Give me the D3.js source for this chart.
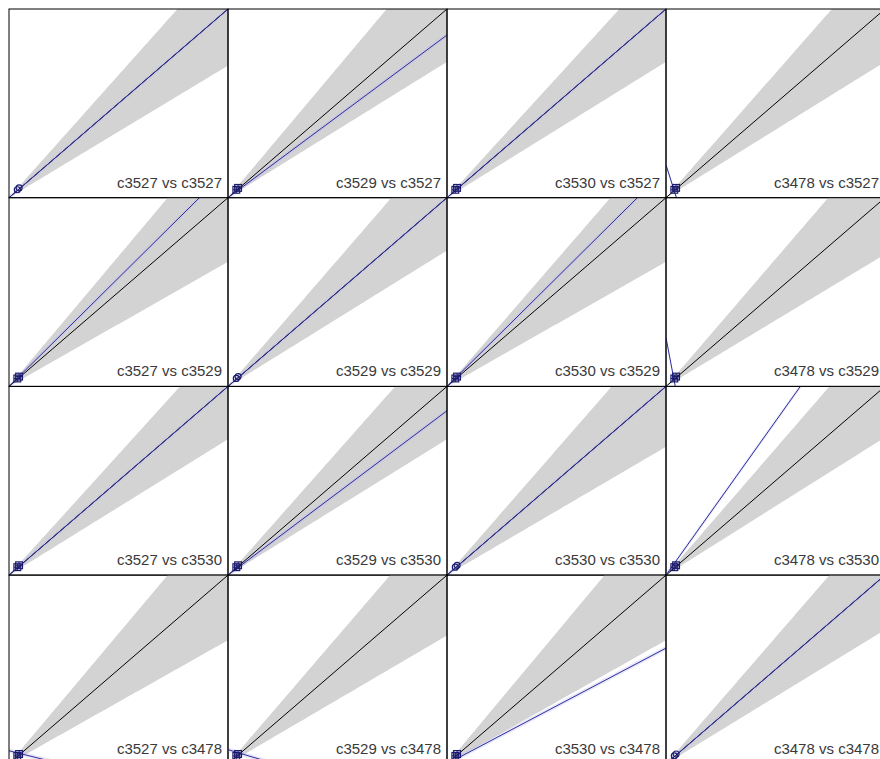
<!DOCTYPE html>
<html>
<head>
<meta charset="utf-8">
<script src="https://cdn.jsdelivr.net/npm/d3@7"></script>
<style>
  html, body { margin: 0; padding: 0; background: #fff; }
  svg { display: block; }
</style>
</head>
<body>
<script>
// ---- data ----
const variables = ["c3527", "c3529", "c3530", "c3478"];
// regression (blue) line per panel, row-major (row = y variable, col = x variable)
const lineSlopes = [
  1.00, 0.862, 1.00, -3.65,
  1.15, 1.00, 1.15, -6.10,
  1.00, 0.871, 1.00, 1.63,
  -0.29, -0.35, 0.613, 1.00
];
const lineIntercepts = [
  0, 0, 0, 0.174,
  0, 0, 0, 0.258,
  0, 0, 0, 0,
  0.069, 0.075, 0, 0
];
// grey tolerance wedge: upper and lower slopes per panel
const wedgeUpper = [
  1.30, 1.38, 1.27, 1.32,
  1.38, 1.34, 1.34, 1.35,
  1.28, 1.31, 1.33, 1.34,
  1.38, 1.35, 1.39, 1.34
];
const wedgeLower = [
  0.70, 0.72, 0.72, 0.72,
  0.66, 0.72, 0.66, 0.70,
  0.72, 0.72, 0.68, 0.73,
  0.655, 0.68, 0.655, 0.71
];
// observed points (same small cluster near origin)
const pointX = [0.038, 0.046];
const pointY = [0.042, 0.052];
const bandHalf = 0.012;

// ---- layout ----
const W = 880, H = 759;
const marginLeft = 9, marginTop = 9, pw = 219, ph = 188.7;

const svg = d3.select("body").append("svg").attr("width", W).attr("height", H);
const defs = svg.append("defs");
defs.append("clipPath").attr("id", "pclip")
  .append("rect").attr("x", 0).attr("y", 0).attr("width", pw).attr("height", ph);

const x = d3.scaleLinear().domain([0, 1]).range([0, pw]);
const y = d3.scaleLinear().domain([0, 1]).range([ph, 0]);
const xs = d3.range(0, 1.0001, 0.01);

variables.forEach((rv, r) => {
  variables.forEach((cv, c) => {
    const i = r * 4 + c;
    const g = svg.append("g").attr("transform", `translate(${marginLeft + c * pw},${marginTop + r * ph})`);
    const clipG = g.append("g").attr("clip-path", "url(#pclip)");

    // wedge
    clipG.append("path")
      .datum(xs)
      .attr("d", d3.area().x(d => x(d)).y0(d => y(wedgeLower[i] * d)).y1(d => y(wedgeUpper[i] * d)))
      .attr("fill", "#d3d3d3");

    const m = lineSlopes[i], b = lineIntercepts[i];
    // regression band
    clipG.append("path")
      .datum(xs)
      .attr("d", d3.area().x(d => x(d)).y0(d => y(m * d + b - bandHalf)).y1(d => y(m * d + b + bandHalf)))
      .attr("fill", "#b9b9ee").attr("opacity", 0.35);

    // identity line
    clipG.append("line")
      .attr("x1", x(0)).attr("y1", y(0)).attr("x2", x(1)).attr("y2", y(1))
      .attr("stroke", "#000").attr("stroke-width", 1);

    // regression line
    clipG.append("path")
      .datum([0, 1])
      .attr("d", d3.line().x(d => x(d)).y(d => y(m * d + b)))
      .attr("stroke", "#2e2e9c").attr("stroke-width", 1).attr("fill", "none");

    // points
    const pts = pointX.map((px, k) => [px, pointY[k]]);
    if (r === c) {
      g.selectAll("circle.pt").data(pts).enter().append("circle")
        .attr("cx", d => x(d[0])).attr("cy", d => y(d[1])).attr("r", 3)
        .attr("fill", "none").attr("stroke", "#1a1a6e").attr("stroke-width", 1.2);
    } else {
      pts.forEach(d => {
        const cx = x(d[0]), cy = y(d[1]), s = 3.4;
        g.append("rect").attr("x", cx - s).attr("y", cy - s).attr("width", 2 * s).attr("height", 2 * s)
          .attr("fill", "none").attr("stroke", "#1a1a6e").attr("stroke-width", 1.2);
        g.append("path").attr("d", `M${cx - s},${cy}H${cx + s}M${cx},${cy - s}V${cy + s}`)
          .attr("stroke", "#1a1a6e").attr("stroke-width", 1);
      });
    }

    // border
    g.append("rect").attr("x", 0).attr("y", 0).attr("width", pw).attr("height", ph)
      .attr("fill", "none").attr("stroke", "#000").attr("stroke-width", 1);

    // label
    g.append("text")
      .attr("x", pw - 6).attr("y", ph - 10)
      .attr("text-anchor", "end")
      .attr("font-family", "Liberation Sans, Arial, sans-serif")
      .attr("font-size", 15)
      .attr("fill", "#3a3a3a")
      .text(`${cv} vs ${rv}`);
  });
});
</script>
</body>
</html>
